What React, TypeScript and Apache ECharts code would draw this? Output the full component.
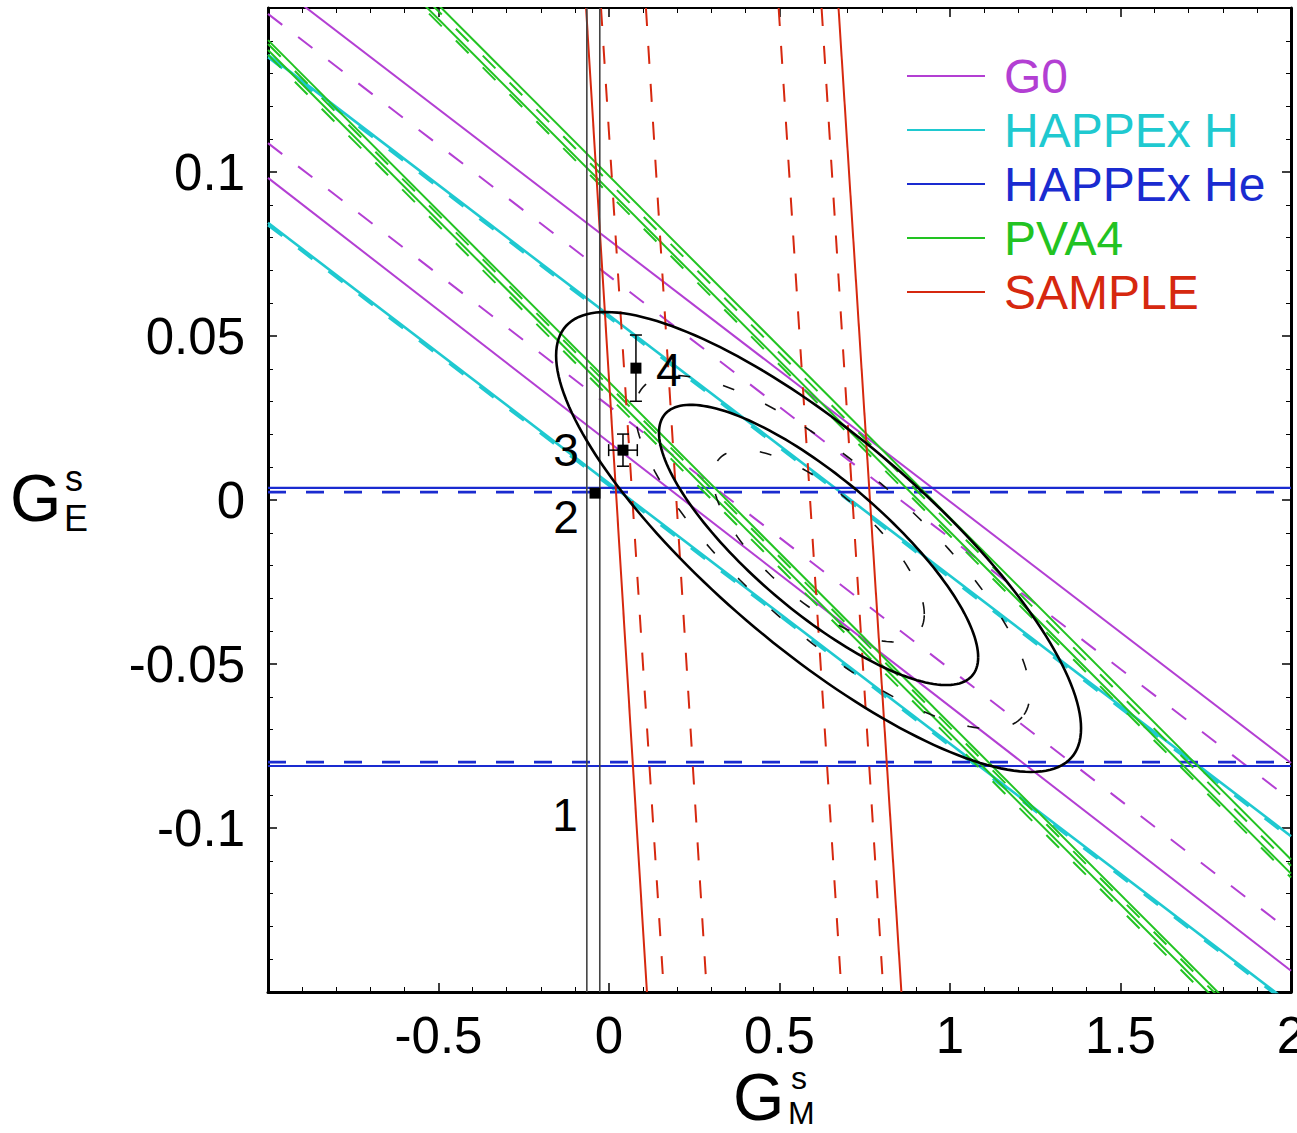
import React, { useEffect, useRef } from "react";
import * as echarts from "echarts";

const FONT = "'Liberation Sans', Arial, Helvetica, sans-serif";

// Axis tick labels that are shown
const X_TICK_LABELS = [-0.5, 0, 0.5, 1, 1.5, 2];
const Y_TICK_LABELS = [-0.1, -0.05, 0, 0.05, 0.1];

const LEGEND_NAMES = ["G0", "HAPPEx H", "HAPPEx He", "PVA4", "SAMPLE"];
const LEGEND_COLORS = ["#b33fd3", "#1fc9d0", "#1a2bd0", "#22c322", "#d6280f"];

// Sloped constraint bands: [G_E at G_M = -1, G_E at G_M = 2]
const G0_SOLID = [[0.159, -0.0802], [0.0982, -0.1435]];
const G0_DASHED = [[0.1482, -0.0915], [0.1088, -0.1317]];
const HAPPEX_H_SOLID = [[0.1357, -0.1025], [0.0845, -0.1537]];
const HAPPEX_H_DASHED = [[0.135, -0.1032], [0.0838, -0.1544]];
const PVA4_SOLID = [[0.1987, -0.1139], [0.203, -0.1096], [0.1402, -0.1724], [0.1372, -0.1754]];
const PVA4_DASHED = [[0.1975, -0.1151], [0.2011, -0.1115], [0.139, -0.1736], [0.1357, -0.1769]];
// Horizontal bands: G_E value
const HAPPEX_HE_SOLID = [0.0037, -0.0811];
const HAPPEX_HE_DASHED = [0.0024, -0.0799];
// Near-vertical bands: [G_M at G_E = 0.15, G_M at G_E = -0.15]
const SAMPLE_SOLID = [[-0.0673, 0.1112], [0.6731, 0.8575]];
const SAMPLE_DASHED = [[-0.0234, 0.161], [0.1083, 0.2868], [0.4975, 0.6819], [0.6234, 0.8048]];
// Vertical black lines: G_M value
const BLACK_VERTICAL = [-0.065, -0.027];

// Ellipses: [centre G_M, centre G_E, u_M, u_E, v_M, v_E]
const ELLIPSES_SOLID = [
  [0.6146, -0.0128, 0.7697, -0.0568, 0, 0.0411],
  [0.6146, -0.0137, 0.468, -0.0342, 0, 0.0256],
];
const ELLIPSES_DASHED = [
  [0.6555, -0.0159, 0.556, -0.0503, -0.161, -0.0192],
  [0.6146, -0.014, 0.31, -0.0208, 0, 0.0206],
];

// Data points with error bars
const POINT_GM = [-0.041, 0.041, 0.079];
const POINT_GE = [0.0021, 0.0152, 0.0402];
const POINT_GM_ERR = [0, 0.042, 0];
const POINT_GE_ERR = [0, 0.0049, 0.0101];

// Numbered annotations
const ANNOT_TEXT = ["1", "2", "3", "4"];
const ANNOT_GM = [-0.129, -0.126, -0.126, 0.1756];
const ANNOT_GE = [-0.096, -0.0052, 0.0152, 0.0396];

const DASH = [18, 20];

function lineSeries(name: string, color: string, data: number[][], dashed: boolean, width: number, z = 2) {
  return {
    type: "line",
    name,
    data,
    symbol: "none",
    showSymbol: false,
    clip: true,
    silent: true,
    animation: false,
    lineStyle: { color, width, type: dashed ? DASH : "solid" },
    itemStyle: { color },
    emphasis: { disabled: true },
    z,
  };
}

function ellipseSeries(data: number[][], dashed: boolean) {
  return {
    type: "custom",
    coordinateSystem: "cartesian2d",
    data,
    silent: true,
    clip: true,
    z: 6,
    encode: { x: 0, y: 1 },
    renderItem: (params: any, api: any) => {
      const cx = api.value(0), cy = api.value(1);
      const ux = api.value(2), uy = api.value(3);
      const vx = api.value(4), vy = api.value(5);
      const pts: number[][] = [];
      const n = 180;
      for (let k = 0; k <= n; k++) {
        const t = (2 * Math.PI * k) / n;
        pts.push(api.coord([cx + ux * Math.cos(t) + vx * Math.sin(t), cy + uy * Math.cos(t) + vy * Math.sin(t)]));
      }
      return {
        type: "polyline",
        shape: { points: pts },
        style: dashed
          ? { stroke: "#111", lineWidth: 1.6, fill: null, lineDash: [12, 34] }
          : { stroke: "#000", lineWidth: 2.6, fill: null },
      };
    },
  };
}

function frameAxis(extra: any) {
  return {
    type: "value",
    axisLine: { show: true, onZero: false, lineStyle: { color: "#000", width: 3 } },
    axisTick: { show: true, inside: true, length: 9, lineStyle: { color: "#000", width: 1.5 } },
    minorTick: { show: true, splitNumber: 5, length: 5, lineStyle: { color: "#000", width: 1 } },
    splitLine: { show: false },
    minorSplitLine: { show: false },
    ...extra,
  };
}

export default function App() {
  const ref = useRef<HTMLDivElement>(null);
  useEffect(() => {
    if (!ref.current) return;
    const chart = echarts.init(ref.current, undefined, { renderer: "svg" });

    const series: any[] = [];
    G0_SOLID.forEach((l) => series.push(lineSeries("G0", LEGEND_COLORS[0], [[-1, l[0]], [2, l[1]]], false, 2)));
    G0_DASHED.forEach((l) => series.push(lineSeries("G0", LEGEND_COLORS[0], [[-1, l[0]], [2, l[1]]], true, 2)));
    HAPPEX_H_SOLID.forEach((l) => series.push(lineSeries("HAPPEx H", LEGEND_COLORS[1], [[-1, l[0]], [2, l[1]]], false, 2.6)));
    HAPPEX_H_DASHED.forEach((l) => series.push(lineSeries("HAPPEx H", LEGEND_COLORS[1], [[-1, l[0]], [2, l[1]]], true, 2.6)));
    HAPPEX_HE_SOLID.forEach((y) => series.push(lineSeries("HAPPEx He", LEGEND_COLORS[2], [[-1, y], [2, y]], false, 2.2)));
    HAPPEX_HE_DASHED.forEach((y) => series.push(lineSeries("HAPPEx He", LEGEND_COLORS[2], [[-1, y], [2, y]], true, 2.8)));
    PVA4_SOLID.forEach((l) => series.push(lineSeries("PVA4", LEGEND_COLORS[3], [[-1, l[0]], [2, l[1]]], false, 2)));
    PVA4_DASHED.forEach((l) => series.push(lineSeries("PVA4", LEGEND_COLORS[3], [[-1, l[0]], [2, l[1]]], true, 2)));
    SAMPLE_SOLID.forEach((l) => series.push(lineSeries("SAMPLE", LEGEND_COLORS[4], [[l[0], 0.15], [l[1], -0.15]], false, 2)));
    SAMPLE_DASHED.forEach((l) => series.push(lineSeries("SAMPLE", LEGEND_COLORS[4], [[l[0], 0.15], [l[1], -0.15]], true, 2)));
    BLACK_VERTICAL.forEach((x) => series.push(lineSeries("", "#444", [[x, -0.15], [x, 0.15]], false, 1.6, 3)));

    series.push(ellipseSeries(ELLIPSES_SOLID, false));
    series.push(ellipseSeries(ELLIPSES_DASHED, true));

    series.push({
      type: "custom",
      coordinateSystem: "cartesian2d",
      silent: true,
      z: 8,
      encode: { x: 0, y: 1 },
      data: POINT_GM.map((x, i) => [x, POINT_GE[i], POINT_GM_ERR[i], POINT_GE_ERR[i]]),
      renderItem: (params: any, api: any) => {
        const x = api.value(0), y = api.value(1), ex = api.value(2), ey = api.value(3);
        const children: any[] = [];
        const st = { stroke: "#000", lineWidth: 1.5 };
        const cap = 6;
        if (ey > 0) {
          const a = api.coord([x, y + ey]);
          const b = api.coord([x, y - ey]);
          children.push({ type: "line", shape: { x1: a[0], y1: a[1], x2: b[0], y2: b[1] }, style: st });
          children.push({ type: "line", shape: { x1: a[0] - cap, y1: a[1], x2: a[0] + cap, y2: a[1] }, style: st });
          children.push({ type: "line", shape: { x1: b[0] - cap, y1: b[1], x2: b[0] + cap, y2: b[1] }, style: st });
        }
        if (ex > 0) {
          const a = api.coord([x - ex, y]);
          const b = api.coord([x + ex, y]);
          children.push({ type: "line", shape: { x1: a[0], y1: a[1], x2: b[0], y2: b[1] }, style: st });
          children.push({ type: "line", shape: { x1: a[0], y1: a[1] - cap, x2: a[0], y2: a[1] + cap }, style: st });
          children.push({ type: "line", shape: { x1: b[0], y1: b[1] - cap, x2: b[0], y2: b[1] + cap }, style: st });
        }
        return { type: "group", children };
      },
    });

    series.push({
      type: "scatter",
      name: "points",
      silent: true,
      z: 9,
      symbol: "rect",
      symbolSize: 11,
      itemStyle: { color: "#000", opacity: 1 },
      data: POINT_GM.map((x, i) => [x, POINT_GE[i]]),
    });

    series.push({
      type: "scatter",
      name: "labels",
      silent: true,
      z: 9,
      symbol: "circle",
      symbolSize: 0,
      itemStyle: { color: "#000", opacity: 1 },
      label: {
        show: true,
        position: "inside",
        formatter: "{b}",
        fontSize: 46,
        fontFamily: FONT,
        color: "#000",
        opacity: 1,
        textBorderWidth: 0,
      },
      data: ANNOT_TEXT.map((t, i) => ({ name: t, value: [ANNOT_GM[i], ANNOT_GE[i]] })),
    });

    const axisFont = { fontSize: 51, fontFamily: FONT, color: "#000" };
    const round = (v: number) => Math.round(v * 1000) / 1000;

    chart.setOption({
      animation: false,
      backgroundColor: "#fff",
      grid: { left: 268, right: 6, top: 8, bottom: 141, containLabel: false, outerBoundsMode: "none" },
      legend: {
        orient: "vertical",
        left: 907,
        top: 52,
        padding: 0,
        icon: "rect",
        itemWidth: 78,
        itemHeight: 2,
        itemGap: 6,
        selectedMode: false,
        textStyle: { fontSize: 48, lineHeight: 46, fontFamily: FONT, padding: [0, 0, 0, 14] },
        data: LEGEND_NAMES.map((n, i) => ({
          name: n,
          icon: "rect",
          itemStyle: { color: LEGEND_COLORS[i] },
          textStyle: { color: LEGEND_COLORS[i] },
        })),
      },
      xAxis: [
        frameAxis({
          min: -1,
          max: 2,
          interval: 0.5,
          position: "bottom",
          axisLabel: {
            ...axisFont,
            margin: 18,
            showMaxLabel: true,
            showMinLabel: true,
            hideOverlap: false,
            formatter: (v: number) => (X_TICK_LABELS.includes(round(v)) ? String(round(v)) : ""),
          },
        }),
        frameAxis({
          min: -1,
          max: 2,
          interval: 0.5,
          position: "top",
          axisLine: { show: true, onZero: false, lineStyle: { color: "#000", width: 2 } },
          axisLabel: { show: false },
        }),
      ],
      yAxis: [
        frameAxis({
          min: -0.15,
          max: 0.15,
          interval: 0.05,
          position: "left",
          axisLabel: {
            ...axisFont,
            margin: 23,
            hideOverlap: false,
            formatter: (v: number) => (Y_TICK_LABELS.includes(round(v)) ? String(round(v)) : ""),
          },
        }),
        frameAxis({
          min: -0.15,
          max: 0.15,
          interval: 0.05,
          position: "right",
          axisLabel: { show: false },
        }),
      ],
      graphic: [
        { type: "text", left: 10, top: 465, style: { text: "G", fontSize: 66, fontFamily: FONT, fill: "#000" } },
        { type: "text", left: 65, top: 460, style: { text: "s", fontSize: 36, fontFamily: FONT, fill: "#000" } },
        { type: "text", left: 64, top: 500, style: { text: "E", fontSize: 36, fontFamily: FONT, fill: "#000" } },
        { type: "text", left: 733, top: 1064, style: { text: "G", fontSize: 66, fontFamily: FONT, fill: "#000" } },
        { type: "text", left: 791, top: 1062, style: { text: "s", fontSize: 32, lineHeight: 20, fontFamily: FONT, fill: "#000" } },
        { type: "text", left: 788, top: 1097, style: { text: "M", fontSize: 32, lineHeight: 28, fontFamily: FONT, fill: "#000" } },
      ],
      series,
    });
    return () => chart.dispose();
  }, []);

  return <div ref={ref} style={{ position: "fixed", left: 0, top: 0, width: 1297, height: 1133 }} />;
}
